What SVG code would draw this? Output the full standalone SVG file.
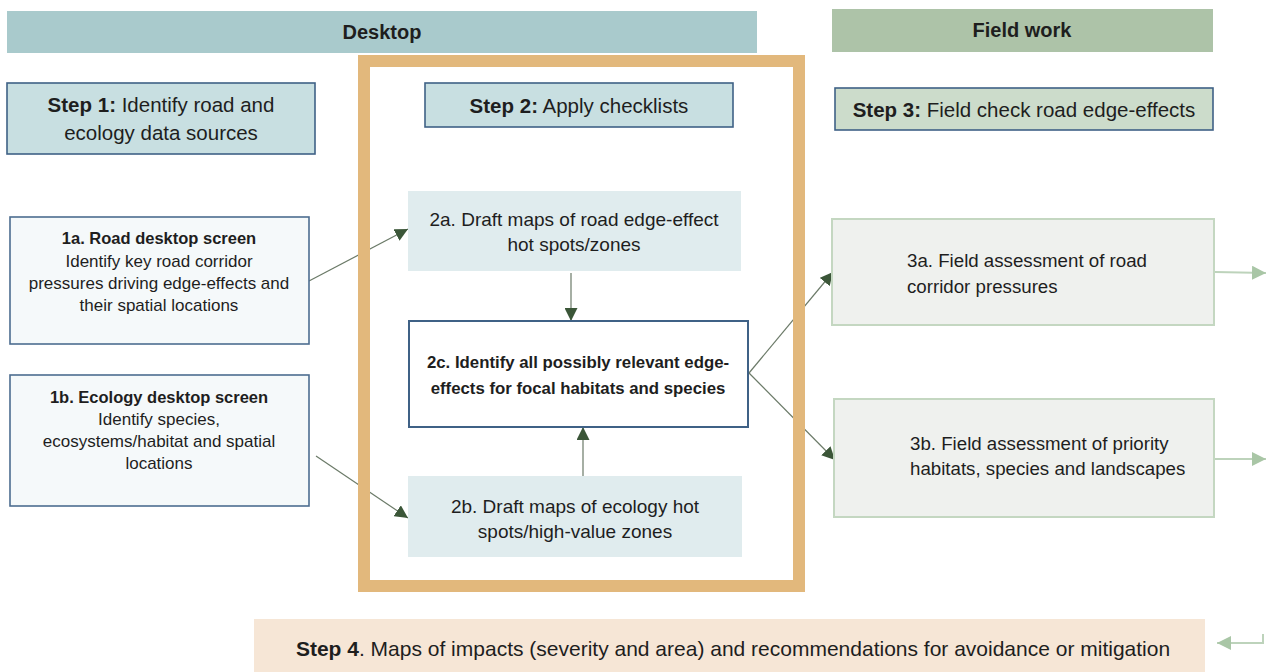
<svg xmlns="http://www.w3.org/2000/svg" width="1266" height="672" viewBox="0 0 1266 672">
  <style>
    text { font-family: "Liberation Sans", Arial, sans-serif; fill: #1e1e1e; }
    .band-t { font-size: 20px; font-weight: bold; text-anchor: middle; }
    .step { font-size: 20.5px; text-anchor: middle; }
    .step4 { font-size: 21px; text-anchor: middle; }
    .small { font-size: 17px; text-anchor: middle; }
    .small.b { font-size: 16.5px; }
    .mid { font-size: 19px; text-anchor: middle; }
    .left { font-size: 18.7px; }
    .core { font-size: 16.8px; text-anchor: middle; font-weight: bold; }
    .b { font-weight: bold; }
    .hdr-box { stroke: #3f6186; stroke-width: 1.6; }
    .sub-box { fill: #f5f9fa; stroke: #4d6d90; stroke-width: 1.6; }
    .map-box { fill: #e0ecee; }
    .field-box { fill: #eff1ee; stroke: #c4d7c1; stroke-width: 2; }
    .conn { fill: none; stroke: #6b7a68; stroke-width: 1.2; }
    .conn-light { fill: none; stroke: #bdd3bb; stroke-width: 2; }
  </style>
  <defs>
    <marker id="arr" viewBox="0 0 10 10" refX="10" refY="5" markerWidth="13" markerHeight="13" markerUnits="userSpaceOnUse" orient="auto">
      <path d="M0 0 L10 5 L0 10 Z" fill="#3b5638"/>
    </marker>
    <marker id="arr-light" viewBox="0 0 10 10" refX="10" refY="5" markerWidth="14" markerHeight="14" markerUnits="userSpaceOnUse" orient="auto">
      <path d="M0 0 L10 5 L0 10 Z" fill="#a9c6a6"/>
    </marker>
  </defs>

  <rect width="1266" height="672" fill="#ffffff"/>

  <!-- phase bands -->
  <g id="band-desktop">
    <rect x="7" y="11" width="750" height="42" fill="#a9cacc"/>
    <text class="band-t" x="382" y="39">Desktop</text>
  </g>
  <g id="band-field">
    <rect x="832" y="9" width="381" height="43" fill="#adc3a8"/>
    <text class="band-t" x="1022" y="37">Field work</text>
  </g>

  <!-- connectors -->
  <g id="connectors">
    <path class="conn" d="M309 281 L408 229" marker-end="url(#arr)"/>
    <path class="conn" d="M316 456 L408 518" marker-end="url(#arr)"/>
    <path class="conn" d="M571 273 L571 321" marker-end="url(#arr)"/>
    <path class="conn" d="M583 476 L583 427" marker-end="url(#arr)"/>
    <path class="conn" d="M749 373 L833 272" marker-end="url(#arr)"/>
    <path class="conn" d="M749 373 L835 460" marker-end="url(#arr)"/>
    <path class="conn-light" d="M1215 272 L1266 273" marker-end="url(#arr-light)"/>
    <path class="conn-light" d="M1215 459 L1266 459" marker-end="url(#arr-light)"/>
    <path class="conn-light" d="M1263 634 L1263 643 L1217 643" marker-end="url(#arr-light)"/>
  </g>

  <!-- step 2 frame -->
  <g id="step2-frame">
    <rect x="364" y="61" width="435" height="525" fill="none" stroke="#e2b87c" stroke-width="12"/>
  </g>

  <g id="step1">
    <rect class="hdr-box" x="7" y="83" width="308" height="71" fill="#c8dfe1"/>
    <text class="step" x="161" y="112"><tspan class="b">Step 1:</tspan> Identify road and</text>
    <text class="step" x="161" y="140">ecology data sources</text>
  </g>

  <g id="step2">
    <rect class="hdr-box" x="425" y="83" width="308" height="44" fill="#c8dfe1"/>
    <text class="step" x="579" y="113"><tspan class="b">Step 2:</tspan> Apply checklists</text>
  </g>

  <g id="step3">
    <rect class="hdr-box" x="835" y="88" width="378" height="42" fill="#ccdccb"/>
    <text class="step" x="1024" y="117"><tspan class="b">Step 3:</tspan> Field check road edge-effects</text>
  </g>

  <g id="node-1a">
    <rect class="sub-box" x="10" y="217" width="299" height="127"/>
    <text class="small b" x="159" y="244">1a. Road desktop screen</text>
    <text class="small" x="159" y="267">Identify key road corridor</text>
    <text class="small" x="159" y="289">pressures driving edge-effects and</text>
    <text class="small" x="159" y="311">their spatial locations</text>
  </g>

  <g id="node-1b">
    <rect class="sub-box" x="10" y="375" width="299" height="131"/>
    <text class="small b" x="159" y="403">1b. Ecology desktop screen</text>
    <text class="small" x="159" y="425">Identify species,</text>
    <text class="small" x="159" y="447">ecosystems/habitat and spatial</text>
    <text class="small" x="159" y="469">locations</text>
  </g>

  <g id="node-2a">
    <rect class="map-box" x="408" y="191" width="333" height="80"/>
    <text class="mid" x="574" y="226">2a. Draft maps of road edge-effect</text>
    <text class="mid" x="574" y="251">hot spots/zones</text>
  </g>

  <g id="node-2c">
    <rect x="409" y="321" width="339" height="106" fill="#ffffff" stroke="#3f6186" stroke-width="2"/>
    <text class="core" x="578" y="368">2c. Identify all possibly relevant edge-</text>
    <text class="core" x="578" y="394">effects for focal habitats and species</text>
  </g>

  <g id="node-2b">
    <rect class="map-box" x="408" y="476" width="334" height="81"/>
    <text class="mid" x="575" y="513">2b. Draft maps of ecology hot</text>
    <text class="mid" x="575" y="538">spots/high-value zones</text>
  </g>

  <g id="node-3a">
    <rect class="field-box" x="832" y="219" width="382" height="106"/>
    <text class="left" x="907" y="267">3a. Field assessment of road</text>
    <text class="left" x="907" y="293">corridor pressures</text>
  </g>

  <g id="node-3b">
    <rect class="field-box" x="834" y="399" width="380" height="118"/>
    <text class="left" x="910" y="450">3b. Field assessment of priority</text>
    <text class="left" x="910" y="475">habitats, species and landscapes</text>
  </g>

  <g id="step4">
    <rect x="254" y="619" width="951" height="53" fill="#f6e6d6"/>
    <text class="step4" x="733" y="656"><tspan class="b">Step 4</tspan>. Maps of impacts (severity and area) and recommendations for avoidance or mitigation</text>
  </g>
</svg>
